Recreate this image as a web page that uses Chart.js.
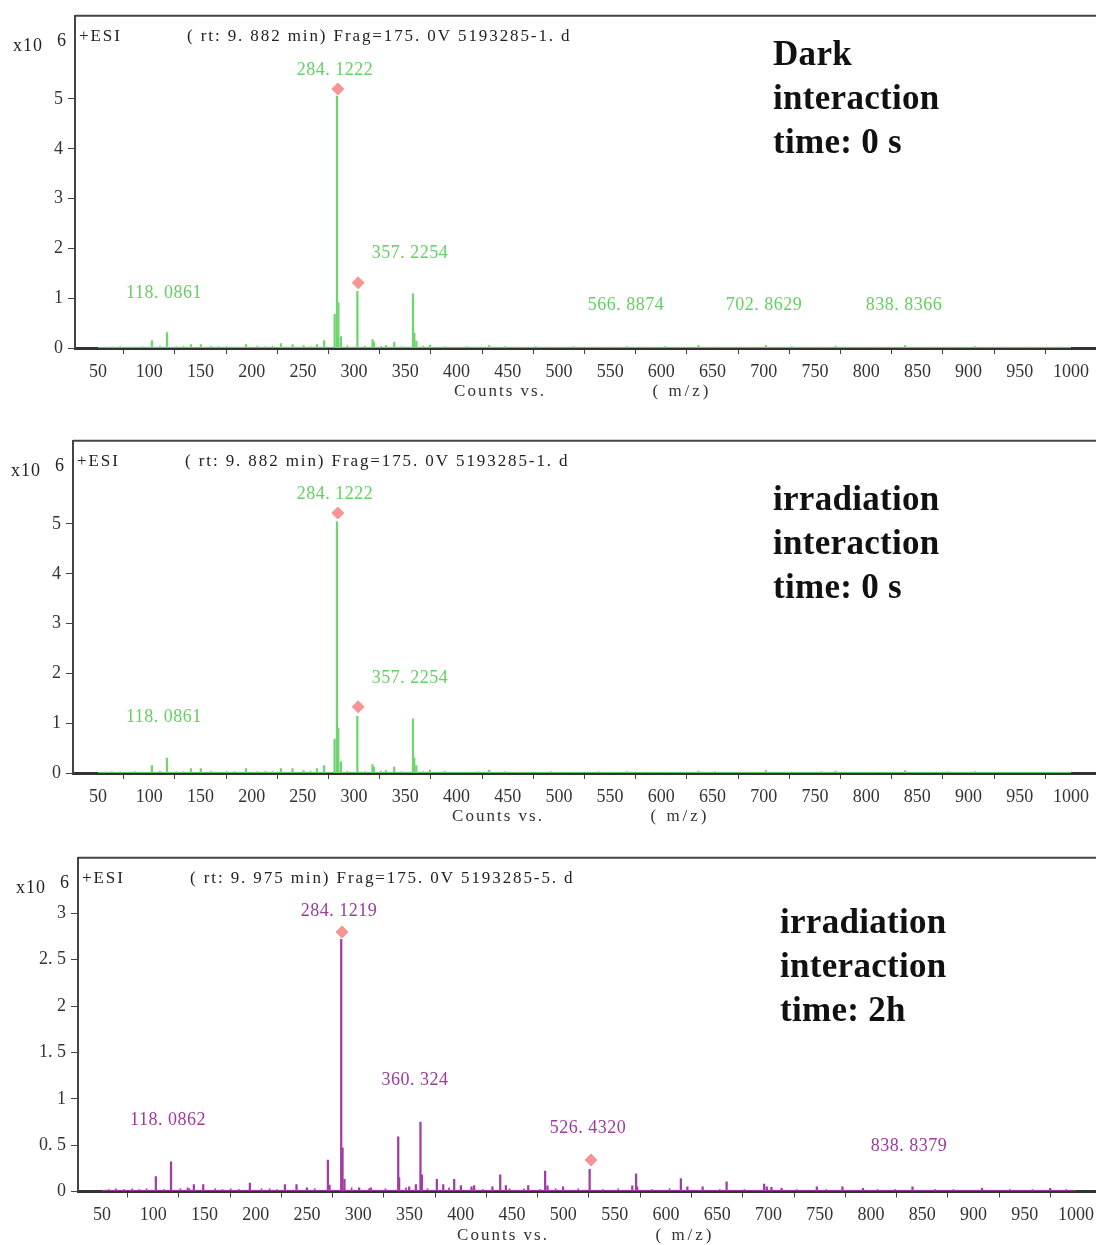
<!DOCTYPE html>
<html>
<head>
<meta charset="utf-8">
<script src="https://cdn.jsdelivr.net/npm/chart.js@4/dist/chart.umd.min.js"></script>
<style>
  body { margin: 0; background: #fff; width: 1096px; height: 1245px; overflow: hidden; position: relative; }
  canvas { position: absolute; left: 0; }
</style>
</head>
<body>
<canvas id="c1" width="1096" height="412" style="top:0px"></canvas>
<canvas id="c2" width="1096" height="412" style="top:425px"></canvas>
<canvas id="c3" width="1096" height="403" style="top:842px"></canvas>
<script>
'use strict';

//****************************************
//              DATA
//****************************************

// x tick labels (m/z)
const mzTicks = [50, 100, 150, 200, 250, 300, 350, 400, 450, 500, 550, 600, 650, 700, 750, 800, 850, 900, 950, 1000];
const countTicks6 = [0, 1, 2, 3, 4, 5];
const countTicks3 = [0, 0.5, 1, 1.5, 2, 2.5, 3];

// baseline of the spectra
const baseMz = [50, 1000];

// small noise peaks, shared positions
const noiseMz = [56, 63, 71, 79, 86, 93, 110, 126, 133, 160, 167, 175, 183, 205, 213, 220, 257, 293, 310, 326,
  346, 367, 388, 410, 421, 447, 461, 477, 492, 514, 538, 553, 586, 603, 652, 676, 727, 756, 806, 823,
  862, 880, 935, 957, 990];

// Dark, interaction time 0 s  (counts x10^6)
const darkMz = [103.4, 118.1, 141.5, 151.2, 195.2, 229.4, 240.7, 251.5, 264.5, 271.6, 281.8, 284.1, 285.4, 287.9,
  304.0, 318.8, 320.2, 331.9, 340.0, 358.3, 359.6, 361.6, 374.8, 432.7, 566.9, 637.0, 702.9, 770.9, 838.8, 907.0];
const darkCounts = [0.15, 0.31, 0.07, 0.07, 0.07, 0.09, 0.07, 0.05, 0.07, 0.15, 0.68, 5.06, 0.91, 0.23,
  1.14, 0.17, 0.12, 0.05, 0.12, 1.09, 0.30, 0.14, 0.06, 0.05, 0.03, 0.05, 0.05, 0.04, 0.05, 0.03];
const darkNoise = [0.02, 0.02, 0.03, 0.02, 0.02, 0.03, 0.04, 0.03, 0.04, 0.04, 0.03, 0.03, 0.02, 0.04, 0.03, 0.04, 0.03, 0.05, 0.04, 0.04,
  0.03, 0.04, 0.03, 0.03, 0.02, 0.03, 0.02, 0.03, 0.02, 0.03, 0.02, 0.02, 0.02, 0.03, 0.02, 0.02, 0.03, 0.02, 0.02, 0.02,
  0.02, 0.02, 0.02, 0.02, 0.02];
const darkMarkMz = [284.1, 304.0];
const darkMarkCounts = [5.2, 1.31];
const darkLabels = ['284. 1222', '357. 2254', '118. 0861', '566. 8874', '702. 8629', '838. 8366'];
const darkLabelMz = [281.4, 354.6, 114.4, 565.5, 700.3, 837.0];
const darkLabelCounts = [5.58, 1.91, 1.10, 0.86, 0.86, 0.86];

// Irradiation, interaction time 0 s
const irr0Mz = [103.4, 118.1, 141.5, 151.2, 195.2, 229.4, 240.7, 251.5, 264.5, 271.6, 281.8, 284.1, 285.4, 287.9,
  304.0, 318.8, 320.2, 331.9, 340.0, 358.3, 359.6, 361.6, 374.8, 432.7, 566.9, 637.0, 702.9, 770.9, 838.8, 907.0];
const irr0Counts = [0.15, 0.30, 0.09, 0.09, 0.09, 0.09, 0.09, 0.05, 0.09, 0.15, 0.68, 5.05, 0.90, 0.23,
  1.14, 0.17, 0.12, 0.05, 0.12, 1.09, 0.30, 0.15, 0.06, 0.06, 0.03, 0.04, 0.05, 0.04, 0.05, 0.03];
const irr0Noise = [0.02, 0.03, 0.02, 0.02, 0.03, 0.02, 0.04, 0.03, 0.03, 0.04, 0.02, 0.03, 0.03, 0.03, 0.04, 0.03, 0.04, 0.04, 0.03, 0.04,
  0.03, 0.03, 0.04, 0.02, 0.03, 0.03, 0.02, 0.02, 0.03, 0.02, 0.03, 0.02, 0.02, 0.02, 0.03, 0.02, 0.02, 0.03, 0.02, 0.02,
  0.02, 0.03, 0.02, 0.02, 0.02];
const irr0MarkMz = [284.1, 304.0];
const irr0MarkCounts = [5.22, 1.33];
const irr0Labels = ['284. 1222', '357. 2254', '118. 0861'];
const irr0LabelMz = [281.4, 354.6, 114.4];
const irr0LabelCounts = [5.6, 1.91, 1.12];

// Irradiation, interaction time 2 h
const irr2Mz = [103.3, 118.1, 135.8, 140.4, 149.5, 195.0, 229.2, 240.5, 250.6, 271.1, 272.7, 284.1, 285.4, 287.3,
  301.6, 313.0, 339.7, 340.6, 350.4, 356.9, 361.4, 362.8, 377.4, 383.6, 394.3, 400.8, 411.2, 413.8, 431.6, 439.2,
  444.7, 466.5, 483.0, 485.3, 500.5, 526.4, 568.0, 571.7, 572.8, 615.4, 621.7, 636.6, 660.0, 696.6, 699.2, 703.7,
  713.7, 748.0, 773.0, 793.0, 841.3, 909.1, 975.6];
const irr2Counts = [0.16, 0.32, 0.03, 0.075, 0.075, 0.09, 0.075, 0.075, 0.04, 0.34, 0.07, 2.72, 0.47, 0.13,
  0.04, 0.04, 0.59, 0.15, 0.05, 0.075, 0.75, 0.18, 0.13, 0.075, 0.13, 0.065, 0.05, 0.065, 0.05, 0.18,
  0.065, 0.065, 0.22, 0.06, 0.05, 0.24, 0.06, 0.19, 0.05, 0.14, 0.05, 0.05, 0.105, 0.08, 0.05, 0.045,
  0.035, 0.05, 0.05, 0.035, 0.05, 0.035, 0.035];
const irr2Noise = [0.02, 0.03, 0.02, 0.03, 0.02, 0.03, 0.02, 0.03, 0.04, 0.03, 0.02, 0.03, 0.02, 0.03, 0.03, 0.02, 0.03, 0.04, 0.03, 0.03,
  0.04, 0.03, 0.04, 0.03, 0.02, 0.03, 0.03, 0.02, 0.03, 0.03, 0.02, 0.03, 0.02, 0.03, 0.02, 0.02, 0.02, 0.02, 0.02, 0.02,
  0.02, 0.02, 0.02, 0.02, 0.02];
const irr2MarkMz = [284.1, 527.0];
const irr2MarkCounts = [2.8, 0.34];
const irr2Labels = ['284. 1219', '360. 324', '118. 0862', '526. 4320', '838. 8379'];
const irr2LabelMz = [281.2, 355.3, 114.4, 524.0, 837.0];
const irr2LabelCounts = [3.02, 1.2, 0.77, 0.68, 0.49];

//****************************************
//            HELPER FUNCTIONS
//****************************************

function pts(xs, ys) {
  return xs.map((v, i) => ({ x: v, y: ys[i] }));
}

// frame, header, peak labels and notes
const decor = {
  id: 'decor',
  afterDraw(chart, args, o) {
    const { ctx, chartArea: a, scales: { x, y } } = chart;
    ctx.save();
    ctx.strokeStyle = '#444';
    ctx.lineWidth = 2;
    ctx.beginPath();
    ctx.moveTo(a.left, a.top);
    ctx.lineTo(a.right, a.top);
    ctx.stroke();

    ctx.fillStyle = '#222';
    ctx.font = '17px "Liberation Serif"';
    ctx.textBaseline = 'middle';
    ctx.textAlign = 'left';
    ctx.letterSpacing = '1.9px';
    ctx.fillText('+ESI', a.left + 4, a.top + 21);
    ctx.fillText(o.header, a.left + 112, a.top + 21);
    ctx.font = '18px "Liberation Serif"';
    ctx.letterSpacing = '1px';
    ctx.fillText('x10', a.left - 62, a.top + 30);
    ctx.fillText('6', a.left - 18, a.top + 25);

    ctx.font = '17px "Liberation Serif"';
    ctx.fillStyle = '#333';
    ctx.textAlign = 'center';
    ctx.letterSpacing = '2px';
    ctx.fillText('Counts vs.', a.left + 425, a.bottom + 44);
    ctx.letterSpacing = '3px';
    ctx.fillText('( m/z)', a.left + 607, a.bottom + 44);

    ctx.font = '18px "Liberation Serif"';
    ctx.letterSpacing = '0.5px';
    ctx.fillStyle = o.color;
    o.labels.forEach((t, i) => {
      ctx.fillText(t, x.getPixelForValue(o.labelMz[i]), y.getPixelForValue(o.labelCounts[i]));
    });

    ctx.font = 'bold 35px "Liberation Serif"';
    ctx.letterSpacing = '0.3px';
    ctx.fillStyle = '#111';
    ctx.textAlign = 'left';
    o.note.forEach((t, i) => ctx.fillText(t, o.noteX, o.noteY + i * 44));
    ctx.restore();
  }
};

function makeChart(id, p) {
  return new Chart(document.getElementById(id), {
    data: {
      datasets: [
        {
          type: 'scatter', data: pts(p.markMz, p.markCounts), pointStyle: 'rectRot', pointRadius: 6,
          backgroundColor: '#f89494', borderColor: '#f89494', order: 0, clip: false
        },
        {
          type: 'bar', data: pts(p.mz, p.counts), backgroundColor: p.color, barThickness: 1.6, order: 1
        },
        {
          type: 'bar', data: pts(noiseMz, p.noise), backgroundColor: p.color, barThickness: 1, order: 2
        },
        {
          type: 'line', data: pts(baseMz, [0.012, 0.012]), borderColor: p.color, borderWidth: 1,
          pointRadius: 0, order: 3
        }
      ]
    },
    options: {
      responsive: false,
      animation: false,
      devicePixelRatio: 1,
      layout: { autoPadding: false, padding: { top: p.top, right: 0, left: 0, bottom: 0 } },
      plugins: {
        legend: { display: false },
        tooltip: { enabled: false },
        decor: {
          color: p.labelColor, labels: p.labels, labelMz: p.labelMz, labelCounts: p.labelCounts,
          header: p.header, note: p.note, noteX: p.noteX, noteY: p.noteY
        }
      },
      scales: {
        x: {
          type: 'linear', min: p.xMin, max: p.xMax, offset: false,
          afterFit: s => { s.height = p.xHeight; s.paddingLeft = 0; s.paddingRight = 0; },
          afterBuildTicks: s => { s.ticks = mzTicks.map(v => ({ value: v })); },
          grid: { drawOnChartArea: false, drawTicks: true, tickLength: 6, color: '#444', lineWidth: 1 },
          border: { display: true, color: '#333', width: 3 },
          ticks: {
            color: '#333', font: { family: 'Liberation Serif', size: 18 }, padding: 7, maxRotation: 0, autoSkip: false,
            callback: v => String(v)
          }
        },
        y: {
          type: 'linear', min: 0, max: p.yMax,
          afterFit: s => { s.width = p.left; },
          afterBuildTicks: s => { s.ticks = p.yTicks.map(v => ({ value: v })); },
          grid: { drawOnChartArea: false, drawTicks: true, tickLength: 7, color: '#444', lineWidth: 1 },
          border: { display: true, color: '#444', width: 2 },
          ticks: {
            color: '#333', font: { family: 'Liberation Serif', size: 18 }, padding: 5,
            callback: v => String(v).replace('.', '. ')
          }
        }
      }
    },
    plugins: [decor]
  });
}

//****************************************
//            CHART RENDERING
//****************************************

const green = '#6fd66f';
const purple = '#a23ca6';

makeChart('c1', {
  mz: darkMz, counts: darkCounts, noise: darkNoise, markMz: darkMarkMz, markCounts: darkMarkCounts,
  labels: darkLabels, labelMz: darkLabelMz, labelCounts: darkLabelCounts,
  color: green, labelColor: '#63d063',
  header: '( rt: 9. 882 min) Frag=175. 0V 5193285-1. d',
  note: ['Dark', 'interaction', 'time: 0 s'], noteX: 773, noteY: 56,
  top: 11, left: 75, xHeight: 64, xMin: 27.5, xMax: 1024.4, yMax: 6.67, yTicks: countTicks6
});

makeChart('c2', {
  mz: irr0Mz, counts: irr0Counts, noise: irr0Noise, markMz: irr0MarkMz, markCounts: irr0MarkCounts,
  labels: irr0Labels, labelMz: irr0LabelMz, labelCounts: irr0LabelCounts,
  color: green, labelColor: '#63d063',
  header: '( rt: 9. 882 min) Frag=175. 0V 5193285-1. d',
  note: ['irradiation', 'interaction', 'time: 0 s'], noteX: 773, noteY: 76,
  top: 11, left: 73, xHeight: 64, xMin: 25.6, xMax: 1024.4, yMax: 6.67, yTicks: countTicks6
});

makeChart('c3', {
  mz: irr2Mz, counts: irr2Counts, noise: irr2Noise, markMz: irr2MarkMz, markCounts: irr2MarkCounts,
  labels: irr2Labels, labelMz: irr2LabelMz, labelCounts: irr2LabelCounts,
  color: purple, labelColor: '#9c3aa0',
  header: '( rt: 9. 975 min) Frag=175. 0V 5193285-5. d',
  note: ['irradiation', 'interaction', 'time: 2h'], noteX: 780, noteY: 82,
  top: 11, left: 78, xHeight: 53.5, xMin: 26.6, xMax: 1019.5, yMax: 3.6, yTicks: countTicks3
});
</script>
</body>
</html>
